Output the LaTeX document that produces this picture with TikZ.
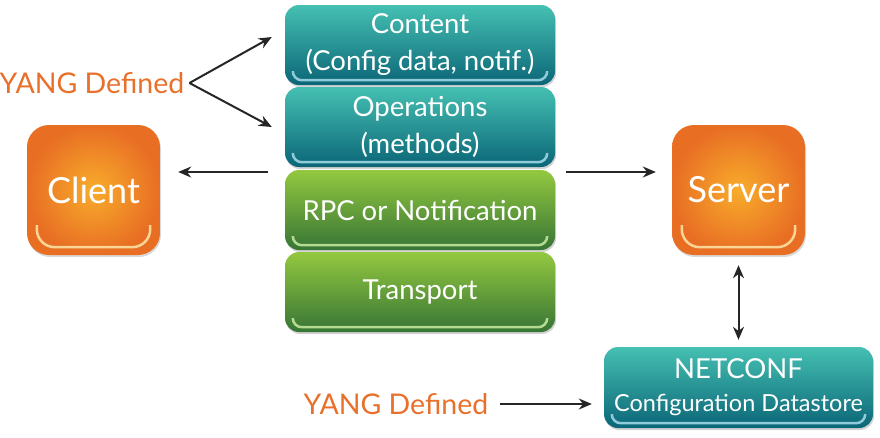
\documentclass[tikz,border=0pt]{standalone}
\usepackage{fontspec}
\setmainfont{Lato}
\usetikzlibrary{arrows.meta, shadows}
\definecolor{yangorange}{HTML}{E8702A}
\definecolor{tealtop}{HTML}{45C0B2}
\definecolor{tealbot}{HTML}{0B6677}
\definecolor{tealhi}{HTML}{8FCBDA}
\definecolor{greentop}{HTML}{93C83F}
\definecolor{greenbot}{HTML}{377535}
\definecolor{greenhi}{HTML}{B4DA92}
\definecolor{orangein}{HTML}{F8AC2B}
\definecolor{orangeout}{HTML}{E86E24}
\definecolor{orangehi}{HTML}{FBD596}

\begin{document}
\begin{tikzpicture}[x=1pt, y=-1pt, inner sep=0pt,
    layer/.style={rounded corners=14pt, minimum width=270pt, minimum height=80pt, text=white, align=center,
        font=\fontsize{27.5}{37}\selectfont, drop shadow={opacity=0.35, shadow xshift=1pt, shadow yshift=-2pt}},
    tealbox/.style={top color=tealtop, bottom color=tealbot},
    greenbox/.style={top color=greentop, bottom color=greenbot},
    party/.style={rounded corners=22pt, minimum width=133pt, minimum height=130pt, inner color=orangein,
        outer color=orangeout, text=white, font=\fontsize{36}{40}\selectfont,
        drop shadow={opacity=0.3, shadow xshift=1pt, shadow yshift=-2pt}},
    yang/.style={text=yangorange, font=\fontsize{28.5}{32}\selectfont},
    shine/.style={draw=#1, line width=2.5pt, rounded corners=9pt},
    link/.style={draw=black!85, line width=2pt, -{Stealth[length=13pt, width=11pt]}}]
    \useasboundingbox (0, 0) rectangle (880, 437);

    % protocol stack
    \node[layer, tealbox] (content) at (420, 45) {Content\\(Config data, notif.)};
    \node[layer, tealbox] (ops) at (420, 127) {Operations\\(methods)};
    \node[layer, greenbox] (rpc) at (420, 210) {RPC or Notification};
    \node[layer, greenbox] (transport) at (420, 292) {Transport};

    % endpoints
    \node[party] (client) at (93.5, 190) {Client};
    \node[party] (server) at (738.5, 190) {Server};
    \node[layer, tealbox, minimum width=269pt, minimum height=81pt] (store) at (738.5, 387.5)
        {NETCONF\\[-4pt]{\fontsize{23.5}{28}\selectfont Configuration Datastore}};

    % labels
    \node[yang] (yangtop) at (92, 83) {YANG Defined};
    \node[yang] (yangbot) at (396, 404) {YANG Defined};

    % bottom highlights
    \draw[shine=tealhi] ([shift={(8,-13)}]content.south west) |- ([shift={(0,-5)}]content.south) -| ([shift={(-8,-13)}]content.south east);
    \draw[shine=tealhi] ([shift={(8,-13)}]ops.south west) |- ([shift={(0,-5)}]ops.south) -| ([shift={(-8,-13)}]ops.south east);
    \draw[shine=greenhi] ([shift={(8,-13)}]rpc.south west) |- ([shift={(0,-5)}]rpc.south) -| ([shift={(-8,-13)}]rpc.south east);
    \draw[shine=greenhi] ([shift={(8,-13)}]transport.south west) |- ([shift={(0,-5)}]transport.south) -| ([shift={(-8,-13)}]transport.south east);
    \draw[shine=tealhi] ([shift={(8,-13)}]store.south west) |- ([shift={(0,-5)}]store.south) -| ([shift={(-8,-13)}]store.south east);
    \draw[shine=orangehi, rounded corners=18pt] ([shift={(10,-30)}]client.south west) |- ([shift={(0,-8)}]client.south) -| ([shift={(-10,-30)}]client.south east);
    \draw[shine=orangehi, rounded corners=18pt] ([shift={(10,-30)}]server.south west) |- ([shift={(0,-8)}]server.south) -| ([shift={(-10,-30)}]server.south east);

    % arrows
    \coordinate (stackleft) at (268, 172);
    \coordinate (stackright) at (566, 172);
    \draw[link] (yangtop.east) ++(5, 0) -- ([shift={(-13,-8)}]content.west);
    \draw[link] (yangtop.east) ++(5, 0) -- ([shift={(-13,0)}]ops.west);
    \draw[link] (stackleft) -- (client.east |- stackleft) [shorten >=18pt];
    \draw[link] (stackright) -- (server.west |- stackright) [shorten >=16pt];
    \draw[link, {Stealth[length=13pt, width=11pt]}-{Stealth[length=13pt, width=11pt]}, shorten <=10pt, shorten >=7pt] (server.south) -- (store.north);
    \draw[link, shorten <=12pt, shorten >=12pt] (yangbot.east) -- (store.west |- yangbot.east);
\end{tikzpicture}
\end{document}
